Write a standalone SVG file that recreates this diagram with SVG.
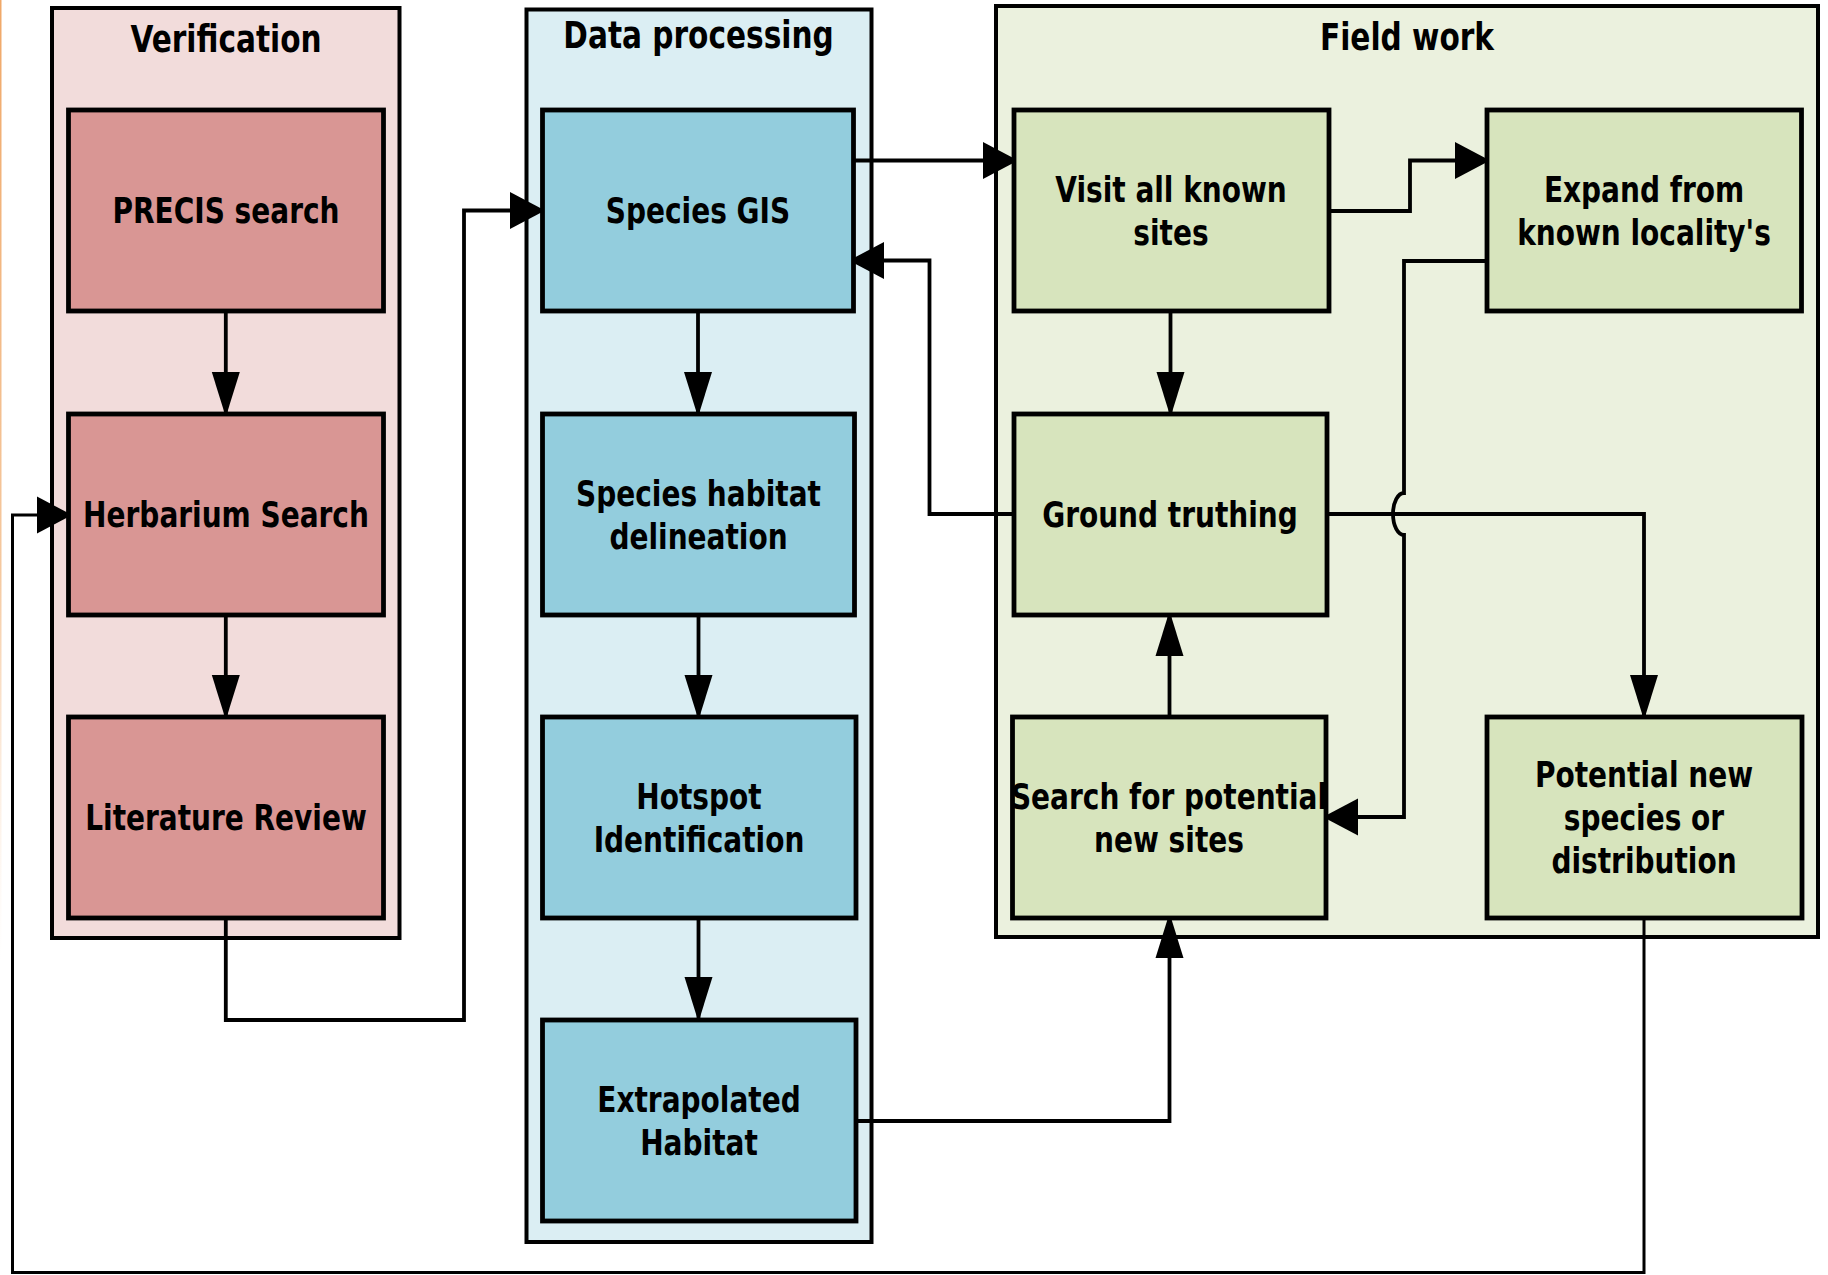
<svg xmlns="http://www.w3.org/2000/svg" width="1828" height="1275" viewBox="0 0 1828 1275">
  <style>
    .lane { stroke: #000; stroke-width: 4; }
    .node { stroke: #000; stroke-width: 4.8; }
    .red { fill: #D99694; }
    .blue { fill: #93CDDD; }
    .green { fill: #D7E4BD; }
    .t { font-family: "DejaVu Sans", Verdana, sans-serif; font-weight: bold; font-size: 35px; text-anchor: middle; fill: #000; transform: scaleX(0.8); }
    .title { font-size: 37px; }
    .c { fill: none; stroke: #000; stroke-width: 3.8; }
    .thin { stroke-width: 3; }
  </style>
  <defs>
    <!-- horizontal arrowhead: short and wide -->
    <marker id="ah" markerUnits="userSpaceOnUse" viewBox="0 -19 36 38" markerWidth="36" markerHeight="38" refX="35" refY="0" orient="auto">
      <path d="M0,-18.5 L35,0 L0,18.5 Z" fill="#000"/>
    </marker>
    <!-- vertical arrowhead: long and narrow -->
    <marker id="av" markerUnits="userSpaceOnUse" viewBox="0 -15 46 30" markerWidth="46" markerHeight="30" refX="45" refY="0" orient="auto">
      <path d="M0,-14 L45,0 L0,14 Z" fill="#000"/>
    </marker>
    <linearGradient id="edge" x1="0" y1="0" x2="0" y2="1">
      <stop offset="0" stop-color="#F0A868"/>
      <stop offset="0.6" stop-color="#F5C9A0"/>
      <stop offset="1" stop-color="#FBE9DA" stop-opacity="0"/>
    </linearGradient>
  </defs>

  <rect width="1828" height="1275" fill="#fff"/>
  <rect x="0" y="0" width="1.5" height="960" fill="url(#edge)"/>

  <!-- swimlanes -->
  <g id="lane-verification">
    <rect class="lane" x="52" y="8" width="347.5" height="930" fill="#F2DCDB"/>
    <g transform="translate(226 0)"><text class="t title" x="0" y="52">Verification</text></g>
  </g>
  <g id="lane-data-processing">
    <rect class="lane" x="526.5" y="9.5" width="345" height="1232.5" fill="#DBEEF3"/>
    <g transform="translate(698.5 0)"><text class="t title" x="0" y="48">Data processing</text></g>
  </g>
  <g id="lane-field-work">
    <rect class="lane" x="996" y="6" width="822" height="931" fill="#EBF1DE"/>
    <g transform="translate(1407 0)"><text class="t title" x="0" y="50">Field work</text></g>
  </g>

  <!-- connectors -->
  <g id="connectors">
    <path class="c" d="M225.8,312 V417" marker-end="url(#av)"/>
    <path class="c" d="M225.8,615 V720" marker-end="url(#av)"/>
    <path class="c" d="M225.8,918 V1020 H464 V210.5 H545" marker-end="url(#ah)"/>
    <path class="c" d="M698,311 V417" marker-end="url(#av)"/>
    <path class="c" d="M698.5,615 V720" marker-end="url(#av)"/>
    <path class="c" d="M698.5,918 V1022" marker-end="url(#av)"/>
    <path class="c" d="M856,1121 H1169.5 V913" marker-end="url(#av)"/>
    <path class="c" d="M1169.5,717 V611" marker-end="url(#av)"/>
    <path class="c" d="M853,160.5 H1018" marker-end="url(#ah)"/>
    <path class="c" d="M1329,211 H1410 V160.5 H1490" marker-end="url(#ah)"/>
    <path class="c" d="M1170.5,311 V417" marker-end="url(#av)"/>
    <path class="c" d="M1014,514 H929.5 V260.5 H849" marker-end="url(#ah)"/>
    <path class="c" d="M1327,514 H1644 V720" marker-end="url(#av)"/>
    <path class="c" d="M1487,261 H1404 V493 A11,21 0 0 0 1404,535 V817 H1323" marker-end="url(#ah)"/>
    <path class="c thin" d="M1644,918 V1272.5 H12.5 V515 H72" marker-end="url(#ah)"/>
  </g>

  <!-- Verification nodes -->
  <g id="precis-search">
    <rect class="node red" x="68.5" y="110" width="315" height="201"/>
    <g transform="translate(226 0)"><text class="t" x="0" y="223.3">PRECIS search</text></g>
  </g>
  <g id="herbarium-search">
    <rect class="node red" x="68.5" y="414" width="315" height="201"/>
    <g transform="translate(226 0)"><text class="t" x="0" y="527.3">Herbarium Search</text></g>
  </g>
  <g id="literature-review">
    <rect class="node red" x="68.5" y="717" width="315" height="201"/>
    <g transform="translate(226 0)"><text class="t" x="0" y="830.3">Literature Review</text></g>
  </g>

  <!-- Data processing nodes -->
  <g id="species-gis">
    <rect class="node blue" x="542.5" y="110" width="311" height="201"/>
    <g transform="translate(698 0)"><text class="t" x="0" y="223.3">Species GIS</text></g>
  </g>
  <g id="species-habitat">
    <rect class="node blue" x="542.5" y="414" width="312" height="201"/>
    <g transform="translate(698.5 0)"><text class="t" x="0" y="505.8">Species habitat<tspan x="0" y="548.8">delineation</tspan></text></g>
  </g>
  <g id="hotspot">
    <rect class="node blue" x="542.5" y="717" width="313.5" height="201"/>
    <g transform="translate(699 0)"><text class="t" x="0" y="808.8">Hotspot<tspan x="0" y="851.8">Identification</tspan></text></g>
  </g>
  <g id="extrapolated-habitat">
    <rect class="node blue" x="542.5" y="1020" width="313.5" height="201"/>
    <g transform="translate(699 0)"><text class="t" x="0" y="1111.8">Extrapolated<tspan x="0" y="1154.8">Habitat</tspan></text></g>
  </g>

  <!-- Field work nodes -->
  <g id="visit-known-sites">
    <rect class="node green" x="1014" y="110" width="315" height="201"/>
    <g transform="translate(1171 0)"><text class="t" x="0" y="201.8">Visit all known<tspan x="0" y="244.8">sites</tspan></text></g>
  </g>
  <g id="expand-locality">
    <rect class="node green" x="1487" y="110" width="314.5" height="201"/>
    <g transform="translate(1644 0)"><text class="t" x="0" y="201.8">Expand from<tspan x="0" y="244.8">known locality's</tspan></text></g>
  </g>
  <g id="ground-truthing">
    <rect class="node green" x="1014" y="414" width="313" height="201"/>
    <g transform="translate(1170 0)"><text class="t" x="0" y="527.3">Ground truthing</text></g>
  </g>
  <g id="search-new-sites">
    <rect class="node green" x="1012.5" y="717" width="313.5" height="201"/>
    <g transform="translate(1169 0)"><text class="t" x="0" y="808.8">Search for potential<tspan x="0" y="851.8">new sites</tspan></text></g>
  </g>
  <g id="potential-new">
    <rect class="node green" x="1487" y="717" width="315" height="201"/>
    <g transform="translate(1644 0)"><text class="t" x="0" y="787.3">Potential new<tspan x="0" y="830.3">species or</tspan><tspan x="0" y="873.3">distribution</tspan></text></g>
  </g>
</svg>
